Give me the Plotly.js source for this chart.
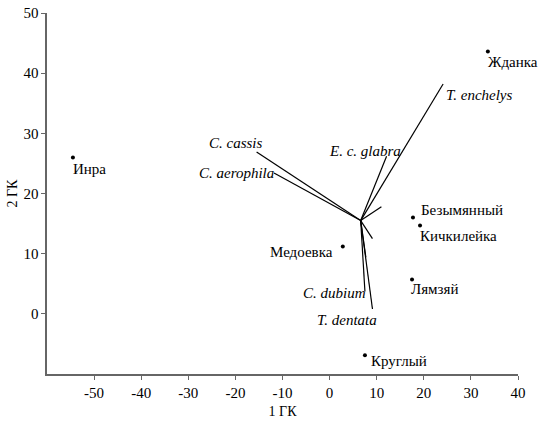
<!DOCTYPE html>
<html>
<head>
<meta charset="utf-8">
<script src="https://cdn.plot.ly/plotly-3.0.1.min.js"></script>
<style>
  html, body { margin: 0; padding: 0; background: #fff; }
  #chart { width: 542px; height: 425px; }
</style>
</head>
<body>
<div id="chart"></div>
<script>
// Site scores on the first two principal components
const siteNames = ["Инра", "Жданка", "Безымянный", "Кичкилейка", "Лямзяй", "Медоевка", "Круглый"];
const siteX = [-54.5, 33.6, 17.7, 19.2, 17.5, 2.8, 7.5];
const siteY = [26.0, 43.6, 16.0, 14.7, 5.7, 11.2, -6.9];

// Species loading vectors, all drawn from a common origin
const vecOrigin = [6.6, 15.5];
const vecNames = ["C. cassis", "C. aerophila", "E. c. glabra", "T. enchelys", "", "", "", "C. dubium", "T. dentata"];
const vecX = [-15.5, -11.8, 12.1, 24.1, 11.0, 9.1, 7.7, 7.5, 9.1];
const vecY = [26.9, 23.4, 26.2, 38.2, 17.8, 12.5, 9.4, 3.7, 0.8];

// Axis ticks
const xTicks = [-50, -40, -30, -20, -10, 0, 10, 20, 30, 40];
const yTicks = [0, 10, 20, 30, 40, 50];

const FONT = "Liberation Serif";
const LABEL_SIZE = 15;
const AXIS_GREY = "#666666";

// Label placement around each site point (pixel offsets)
const siteLabelPos = {
  "Инра":       { anchor: "left",  dx: -1,  dy: -12 },
  "Жданка":     { anchor: "left",  dx: -1,  dy: -10 },
  "Безымянный": { anchor: "left",  dx: 7,   dy: 8 },
  "Кичкилейка": { anchor: "left",  dx: -1,  dy: -11 },
  "Лямзяй":     { anchor: "left",  dx: -2,  dy: -9 },
  "Медоевка":   { anchor: "right", dx: -9,  dy: -6 },
  "Круглый":    { anchor: "left",  dx: 5,   dy: -6 }
};
// Label placement at the tip of each species vector
const vecLabelPos = {
  "C. cassis":    { anchor: "right", dx: 7,  dy: 9 },
  "C. aerophila": { anchor: "right", dx: 1,  dy: 0 },
  "E. c. glabra": { anchor: "right", dx: 15, dy: 5 },
  "T. enchelys":  { anchor: "left",  dx: 2,  dy: -11 },
  "C. dubium":    { anchor: "right", dx: 2,  dy: -1 },
  "T. dentata":   { anchor: "right", dx: 6,  dy: -11 }
};

// One line trace with gaps between the vectors
const lx = [], ly = [];
vecX.forEach((vx, i) => {
  lx.push(vecOrigin[0], vx, null);
  ly.push(vecOrigin[1], vecY[i], null);
});

const traces = [
  {
    x: lx, y: ly, type: "scatter", mode: "lines",
    line: { color: "#000", width: 1.2 },
    hoverinfo: "skip", showlegend: false
  },
  {
    x: siteX, y: siteY, type: "scatter", mode: "markers",
    marker: { color: "#000", size: 4 },
    text: siteNames, showlegend: false
  }
];

const annotations = [];
siteNames.forEach((n, i) => {
  const p = siteLabelPos[n];
  annotations.push({
    x: siteX[i], y: siteY[i], xref: "x", yref: "y", text: n,
    showarrow: false, xanchor: p.anchor, yanchor: "middle",
    xshift: p.dx, yshift: p.dy, borderpad: 0,
    font: { family: FONT, size: LABEL_SIZE, color: "#000" }
  });
});
vecNames.forEach((n, i) => {
  if (!n) return;
  const p = vecLabelPos[n];
  annotations.push({
    x: vecX[i], y: vecY[i], xref: "x", yref: "y", text: "<i>" + n + "</i>",
    showarrow: false, xanchor: p.anchor, yanchor: "middle",
    xshift: p.dx, yshift: p.dy, borderpad: 0,
    font: { family: FONT, size: LABEL_SIZE, color: "#000" }
  });
});

const axisCommon = {
  showline: true, linecolor: AXIS_GREY, linewidth: 1.6,
  ticks: "outside", ticklen: 4, tickwidth: 1, tickcolor: AXIS_GREY,
  showgrid: false, zeroline: false,
  tickfont: { family: FONT, size: LABEL_SIZE, color: "#000" },
  tickmode: "array"
};

const layout = {
  width: 542, height: 425,
  margin: { l: 47, r: 24, t: 13, b: 51 },
  paper_bgcolor: "#fff", plot_bgcolor: "#fff",
  font: { family: FONT, color: "#000" },
  xaxis: Object.assign({}, axisCommon, {
    range: [-60, 40], tickvals: xTicks, ticktext: xTicks.map(String),
    title: { text: "1 ГК", font: { family: FONT, size: 14, color: "#000" }, standoff: 6 }
  }),
  yaxis: Object.assign({}, axisCommon, {
    range: [-10, 50], tickvals: yTicks, ticktext: yTicks.map(String),
    title: { text: "2 ГК", font: { family: FONT, size: 14, color: "#000" }, standoff: 2 }
  }),
  annotations: annotations,
  showlegend: false
};

Plotly.newPlot("chart", traces, layout, { displayModeBar: false, staticPlot: true });
</script>
</body>
</html>
